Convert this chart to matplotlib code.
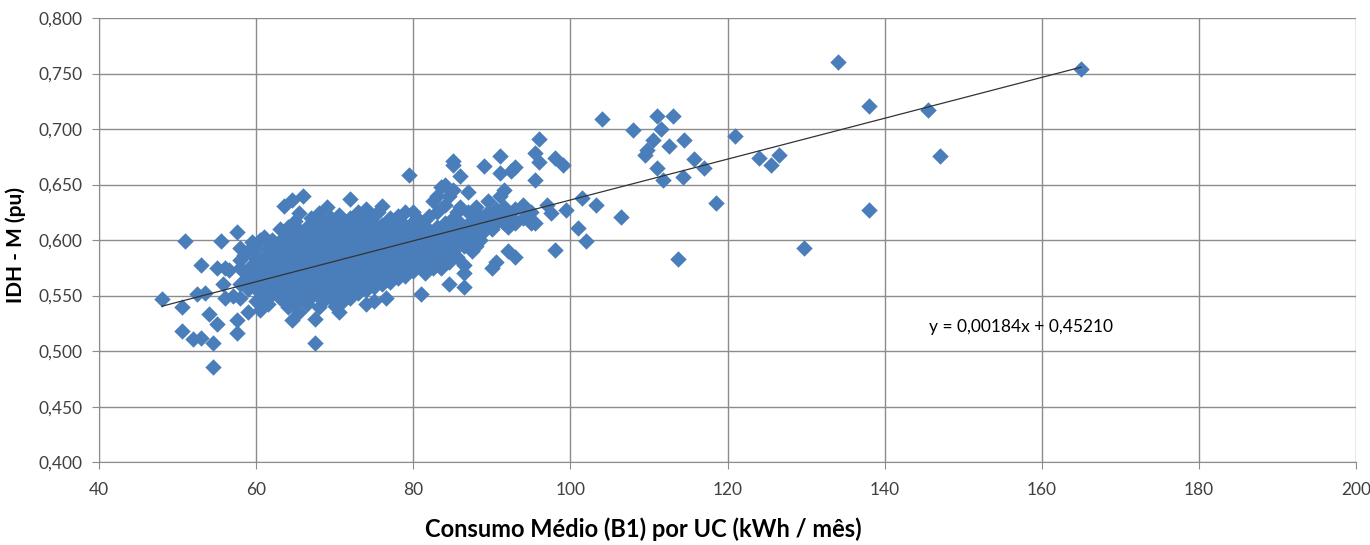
import matplotlib
matplotlib.use("Agg")
import matplotlib.pyplot as plt
from matplotlib.ticker import FuncFormatter

# Consumo medio (kWh/mes) x IDH-M
# left tail of the cloud (x < 58)
consumo_left = [48, 50.5, 50.5, 51, 52, 52.5, 53, 53, 53.5, 54, 54.5, 54.5, 55, 55, 55.5,
                56, 56, 57, 57.5, 57.5, 57.5, 56.5, 55.8]
idh_left = [0.547, 0.518, 0.540, 0.599, 0.511, 0.551, 0.512, 0.578, 0.552, 0.533, 0.486, 0.507,
            0.524, 0.575, 0.599, 0.548, 0.575, 0.550, 0.607, 0.528, 0.516, 0.573, 0.560]

# dense core (58 <= x <= 95)
consumo_core = [
    58, 58, 58, 58, 58, 58.5, 58.5, 59, 59, 59, 59, 59.5, 59.5, 59.5,
    60, 60, 60, 60, 60, 60.5, 60.5, 60.5, 60.5, 61, 61, 61, 61, 61,
    61.5, 61.5, 61.5, 61.5, 62, 62, 62, 62, 62, 62.5, 62.5, 62.5, 62.5, 62.5,
    63, 63, 63, 63, 63, 63, 63.5, 63.5, 63.5, 63.5, 63.5, 63.5,
    64, 64, 64, 64, 64, 64, 64, 64.5, 64.5, 64.5, 64.5, 64.5, 64.5, 64.5,
    65, 65, 65, 65, 65, 65, 65, 65.5, 65.5, 65.5, 65.5, 65.5, 65.5, 65.5,
    66, 66, 66, 66, 66, 66, 66, 66.5, 66.5, 66.5, 66.5, 66.5, 66.5, 66.5,
    67, 67, 67, 67, 67, 67, 67, 67, 67.5, 67.5, 67.5, 67.5, 67.5, 67.5, 67.5, 67.5,
    68, 68, 68, 68, 68, 68, 68, 68, 68.5, 68.5, 68.5, 68.5, 68.5, 68.5, 68.5,
    69, 69, 69, 69, 69, 69, 69, 69, 69.5, 69.5, 69.5, 69.5, 69.5, 69.5, 69.5,
    70, 70, 70, 70, 70, 70, 70, 70, 70.5, 70.5, 70.5, 70.5, 70.5, 70.5, 70.5,
    71, 71, 71, 71, 71, 71, 71, 71.5, 71.5, 71.5, 71.5, 71.5, 71.5,
    72, 72, 72, 72, 72, 72, 72, 72, 72.5, 72.5, 72.5, 72.5, 72.5, 72.5,
    73, 73, 73, 73, 73, 73, 73, 73.5, 73.5, 73.5, 73.5, 73.5,
    74, 74, 74, 74, 74, 74, 74, 74.5, 74.5, 74.5, 74.5, 74.5,
    75, 75, 75, 75, 75, 75, 75, 75.5, 75.5, 75.5, 75.5, 75.5,
    76, 76, 76, 76, 76, 76, 76.5, 76.5, 76.5, 76.5, 76.5,
    77, 77, 77, 77, 77, 77, 77.5, 77.5, 77.5, 77.5,
    78, 78, 78, 78, 78, 78.5, 78.5, 78.5, 78.5, 79, 79, 79, 79, 79,
    79.5, 79.5, 79.5, 79.5, 80, 80, 80, 80, 80, 80, 80.5, 80.5, 80.5, 80.5,
    81, 81, 81, 81, 81, 81.5, 81.5, 81.5, 81.5, 82, 82, 82, 82, 82,
    82.5, 82.5, 82.5, 82.5, 83, 83, 83, 83, 83, 83.5, 83.5, 83.5, 83.5,
    84, 84, 84, 84, 84, 84.5, 84.5, 84.5, 84.5, 84.5,
    85, 85, 85, 85, 85, 85, 85.5, 85.5, 85.5, 85.5, 86, 86, 86, 86,
    86.5, 86.5, 86.5, 86.5, 86.5, 87, 87, 87, 87, 87, 87.5, 87.5, 87.5,
    88, 88, 88, 88, 88.5, 88.5, 88.5, 89, 89, 89, 89.5, 89.5, 89.5,
    90, 90, 90, 90.5, 90.5, 90.5, 91, 91, 91, 91, 91.5, 91.5, 91.5,
    92, 92, 92, 92.5, 92.5, 93, 93, 93, 93, 94, 94, 95, 95,
]
idh_core = [
    0.560, 0.575, 0.582, 0.548, 0.593, 0.571, 0.587, 0.556, 0.590, 0.566, 0.535, 0.578, 0.560, 0.598,
    0.545, 0.570, 0.583, 0.592, 0.556, 0.562, 0.600, 0.537, 0.575, 0.552, 0.585, 0.571, 0.546, 0.603,
    0.560, 0.593, 0.578, 0.542, 0.567, 0.551, 0.588, 0.600, 0.579, 0.556, 0.572, 0.594, 0.562, 0.585,
    0.548, 0.565, 0.580, 0.597, 0.610, 0.570, 0.558, 0.576, 0.590, 0.631, 0.603, 0.545,
    0.553, 0.568, 0.583, 0.598, 0.612, 0.574, 0.540, 0.562, 0.578, 0.592, 0.605, 0.636, 0.550, 0.528,
    0.557, 0.571, 0.586, 0.600, 0.617, 0.543, 0.580, 0.566, 0.580, 0.595, 0.609, 0.552, 0.535, 0.624,
    0.560, 0.574, 0.589, 0.603, 0.640, 0.548, 0.582, 0.568, 0.584, 0.597, 0.612, 0.555, 0.576, 0.542,
    0.563, 0.578, 0.591, 0.606, 0.620, 0.549, 0.585, 0.570, 0.572, 0.588, 0.600, 0.615, 0.507, 0.529, 0.558, 0.580,
    0.566, 0.581, 0.594, 0.609, 0.624, 0.551, 0.540, 0.575, 0.574, 0.590, 0.603, 0.560, 0.585, 0.545, 0.618,
    0.569, 0.583, 0.597, 0.612, 0.630, 0.555, 0.577, 0.590, 0.578, 0.592, 0.606, 0.562, 0.548, 0.620, 0.585,
    0.572, 0.586, 0.600, 0.614, 0.558, 0.541, 0.580, 0.593, 0.580, 0.595, 0.609, 0.566, 0.552, 0.623, 0.535,
    0.575, 0.589, 0.603, 0.617, 0.560, 0.545, 0.596, 0.583, 0.598, 0.612, 0.569, 0.555, 0.590,
    0.578, 0.592, 0.606, 0.637, 0.563, 0.548, 0.620, 0.585, 0.586, 0.601, 0.572, 0.558, 0.615, 0.595,
    0.581, 0.595, 0.609, 0.566, 0.552, 0.625, 0.588, 0.589, 0.604, 0.575, 0.560, 0.618,
    0.584, 0.598, 0.612, 0.569, 0.555, 0.628, 0.542, 0.592, 0.606, 0.578, 0.563, 0.620,
    0.587, 0.601, 0.615, 0.572, 0.558, 0.598, 0.545, 0.595, 0.609, 0.581, 0.566, 0.625,
    0.590, 0.604, 0.631, 0.575, 0.560, 0.614, 0.598, 0.612, 0.584, 0.570, 0.548,
    0.593, 0.607, 0.620, 0.578, 0.562, 0.600, 0.601, 0.615, 0.587, 0.572,
    0.596, 0.610, 0.580, 0.566, 0.622, 0.604, 0.590, 0.575, 0.615, 0.599, 0.613, 0.584, 0.568, 0.625,
    0.659, 0.607, 0.593, 0.578, 0.602, 0.616, 0.587, 0.572, 0.625, 0.595, 0.610, 0.596, 0.582, 0.620,
    0.551, 0.605, 0.590, 0.575, 0.615, 0.600, 0.585, 0.613, 0.570, 0.608, 0.594, 0.580, 0.622, 0.575,
    0.635, 0.603, 0.588, 0.575, 0.640, 0.612, 0.597, 0.583, 0.625, 0.648, 0.606, 0.590, 0.575,
    0.650, 0.615, 0.600, 0.585, 0.632, 0.560, 0.610, 0.595, 0.580, 0.640,
    0.671, 0.668, 0.620, 0.605, 0.590, 0.645, 0.612, 0.598, 0.625, 0.585, 0.658, 0.615, 0.600, 0.630,
    0.558, 0.570, 0.608, 0.595, 0.578, 0.643, 0.612, 0.598, 0.625, 0.605, 0.618, 0.603, 0.590,
    0.610, 0.625, 0.595, 0.630, 0.615, 0.605, 0.600, 0.667, 0.620, 0.610, 0.612, 0.625, 0.635,
    0.575, 0.620, 0.610, 0.580, 0.615, 0.628, 0.676, 0.660, 0.625, 0.640, 0.645, 0.615, 0.630,
    0.590, 0.622, 0.612, 0.662, 0.620, 0.666, 0.585, 0.628, 0.615, 0.620, 0.632, 0.615, 0.625,
]

# right side (x > 95)
consumo_right = [95.5, 95.5, 95.5, 96, 96, 97, 97.5, 98, 98, 99, 99.5, 101, 101.5, 102, 103.2,
                 104, 106.5, 108, 109.5, 109.8, 110.5, 111, 111, 111.5, 111.8, 112.5, 113,
                 113.7, 114.3, 114.5, 115.7, 117, 118.5, 121, 124, 125.5, 126.5, 129.7,
                 134, 138, 138, 145.5, 147, 165]
idh_right = [0.654, 0.678, 0.615, 0.691, 0.670, 0.632, 0.624, 0.674, 0.591, 0.668, 0.627, 0.611,
             0.638, 0.599, 0.632, 0.709, 0.621, 0.699, 0.677, 0.681, 0.690, 0.712, 0.665, 0.700,
             0.654, 0.685, 0.712, 0.583, 0.657, 0.690, 0.673, 0.665, 0.633, 0.694, 0.674, 0.668,
             0.677, 0.593, 0.760, 0.721, 0.627, 0.717, 0.676, 0.754]

# linear trend shown on the chart
slope = 0.00184
intercept = 0.45210

x_all = consumo_left + consumo_core + consumo_right
y_all = idh_left + idh_core + idh_right

plt.rcParams["font.family"] = ["Lato", "DejaVu Sans"]

fig = plt.figure(figsize=(13.7, 5.45), dpi=100)
ax = fig.add_axes([0.0723, 0.152, 0.9175, 0.815])

ax.scatter(x_all, y_all, marker="D", s=70, color="#4a7ebb", linewidths=0, zorder=3)

x_min, x_max = min(x_all), max(x_all)
ax.plot([x_min, x_max], [slope * x_min + intercept, slope * x_max + intercept],
        color="#333333", lw=0.9, zorder=4)

ax.text(145.7, 0.522, "y = 0,00184x + 0,45210", fontsize=12.5, va="center", ha="left")

ax.set_xlim(40, 200)
ax.set_ylim(0.4, 0.8)
ax.set_xticks(range(40, 201, 20))
ax.set_yticks([0.4 + 0.05 * i for i in range(9)])
ax.yaxis.set_major_formatter(FuncFormatter(lambda v, p: f"{v:.3f}".replace(".", ",")))

ax.grid(True, color="#8c8c8c", lw=1)
ax.set_axisbelow(True)
for side in ["top", "right"]:
    ax.spines[side].set_visible(False)
for side in ["left", "bottom"]:
    ax.spines[side].set_color("#8c8c8c")
ax.tick_params(length=5, color="#8c8c8c", labelsize=12.5, labelcolor="#404040")
ax.tick_params(axis="x", pad=9)
ax.tick_params(axis="y", pad=7)

ax.set_xlabel("Consumo Médio (B1) por UC (kWh / mês)", fontsize=17, fontweight="bold")
ax.xaxis.set_label_coords(0.433, -0.125)
ax.set_ylabel("IDH - M (pu)", fontsize=15, fontweight="bold")
ax.yaxis.set_label_coords(-0.058, 0.49)

fig.savefig("out.png", dpi=100)
